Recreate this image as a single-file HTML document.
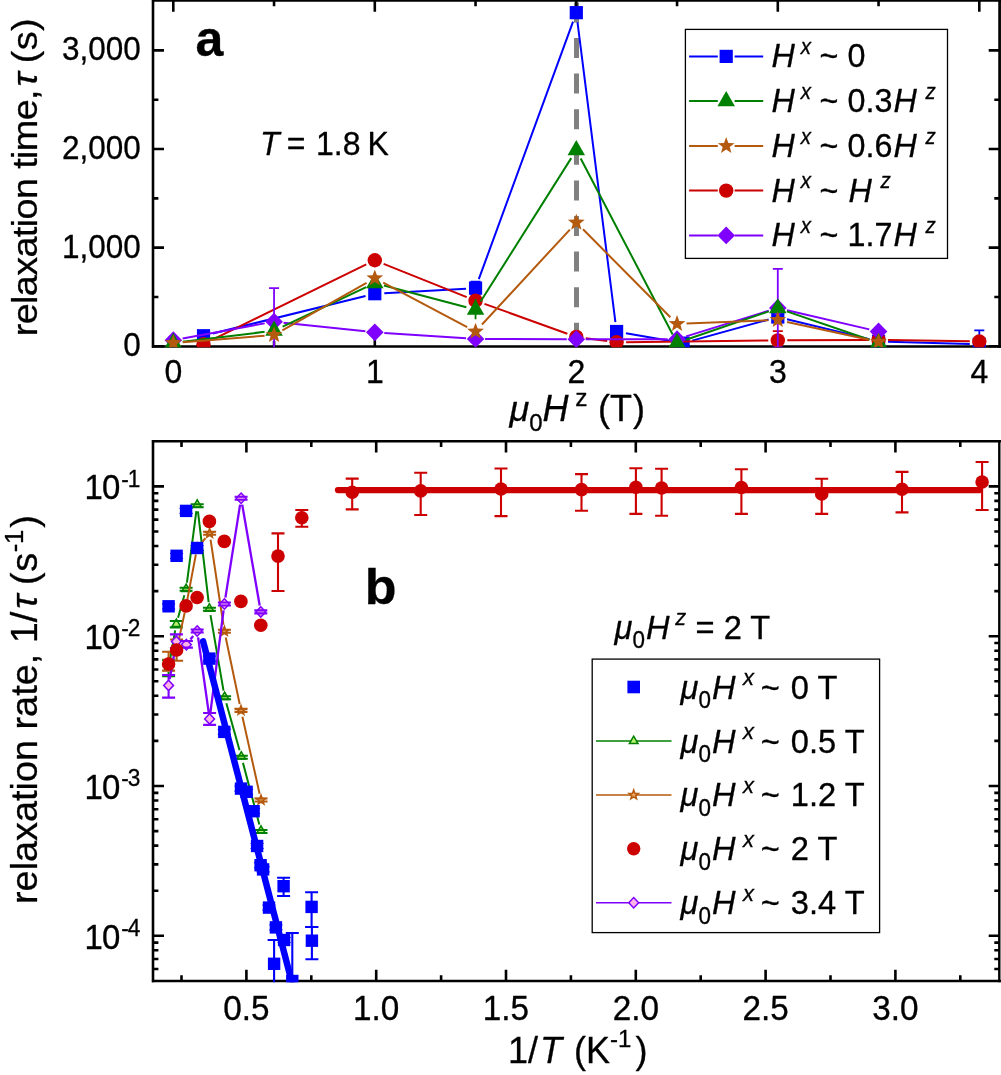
<!DOCTYPE html>
<html lang="en"><head><meta charset="utf-8"><title>Relaxation time and rate</title>
<style>
html,body{margin:0;padding:0;background:#fff;}
body{width:1001px;height:1075px;overflow:hidden;}
svg{display:block;}
svg text{font-family:"Liberation Sans",Arial,Helvetica,sans-serif;fill:#000;stroke:#000;stroke-width:0.3px;stroke-linejoin:round;}
</style></head>
<body>
<svg width="1001" height="1075" viewBox="0 0 1001 1075">
<rect width="1001" height="1075" fill="#fff"/>
<g id="panel-a">
<line x1="576.5" y1="2.4" x2="576.5" y2="346" stroke="#808080" stroke-width="5" stroke-dasharray="20 15.6"/>
<path d="M153.0 -0.8V347.7" stroke="#000" stroke-width="2.6" fill="none"/><path d="M999.6 -0.8V347.7" stroke="#000" stroke-width="2.7" fill="none"/><path d="M151.95 0.4H1000.95M151.95 346.5H1000.95" stroke="#000" stroke-width="2.5" fill="none"/>
<path d="M173.3 0.4v11.3M173.3 346.5v-11.3M274.05 0.4v5.8M274.05 346.5v-5.8M374.8 0.4v11.3M374.8 346.5v-11.3M475.55 0.4v5.8M475.55 346.5v-5.8M576.3 0.4v11.3M576.3 346.5v-11.3M677.05 0.4v5.8M677.05 346.5v-5.8M777.8 0.4v11.3M777.8 346.5v-11.3M878.55 0.4v5.8M878.55 346.5v-5.8M979.3 0.4v11.3M979.3 346.5v-11.3M153.1 346.3h10.9M999.6 346.3h-10.9M153.1 296.98h5.3M999.6 296.98h-5.3M153.1 247.65h10.9M999.6 247.65h-10.9M153.1 198.33h5.3M999.6 198.33h-5.3M153.1 149h10.9M999.6 149h-10.9M153.1 99.68h5.3M999.6 99.68h-5.3M153.1 50.35h10.9M999.6 50.35h-10.9" stroke="#000" stroke-width="2.6" fill="none"/>
<clipPath id="c1"><rect x="150" y="0" width="851" height="347.3"/></clipPath>
<g clip-path="url(#c1)">
<path d="M475.55 281.68V294.51M470.55 281.68H480.55M470.55 294.51H480.55" stroke="#0000ff" stroke-width="1.8" fill="none"/>
<path d="M979.3 330.32V356.17M974.3 330.32H984.3M974.3 356.17H984.3" stroke="#0000ff" stroke-width="1.8" fill="none"/>
<path d="M212.75 333.48L365.57 295.98M384.29 293.19L466.06 288.63M478.81 279.17L573.04 21.59M577.49 22.09L615.41 322.08M625.96 333.14L673.74 341.51M692.25 340.62L768.64 319.53M787.03 319.23L869.32 339.13M888.05 341.65L969.8 344.05" stroke="#0000ff" stroke-width="2.0" fill="none"/>
<rect x="196.93" y="329.14" width="13.2" height="13.2" fill="#0000ff"/>
<rect x="368.2" y="287.12" width="13.2" height="13.2" fill="#0000ff"/>
<rect x="468.95" y="281.5" width="13.2" height="13.2" fill="#0000ff"/>
<rect x="569.7" y="6.07" width="13.2" height="13.2" fill="#0000ff"/>
<rect x="610" y="324.9" width="13.2" height="13.2" fill="#0000ff"/>
<rect x="676.5" y="336.54" width="13.2" height="13.2" fill="#0000ff"/>
<rect x="771.2" y="310.4" width="13.2" height="13.2" fill="#0000ff"/>
<rect x="871.95" y="334.77" width="13.2" height="13.2" fill="#0000ff"/>
<rect x="972.7" y="337.73" width="13.2" height="13.2" fill="#0000ff"/>
<path d="M777.8 331.11V351.23M772.8 331.11H782.8M772.8 351.23H782.8" stroke="#cc0000" stroke-width="1.8" fill="none"/>
<path d="M212.06 339.95L366.27 264.45M383.62 263.81L466.73 297.09M484.49 303.85L567.36 333.71M585.72 338.17L607.18 341.01M626.1 342.14L768.3 340.49M787.3 340.33L869.05 339.93M888.05 340.04L969.8 341.32" stroke="#cc0000" stroke-width="2.0" fill="none"/>
<circle cx="203.53" cy="344.13" r="7.2" fill="#cc0000"/>
<circle cx="374.8" cy="260.28" r="7.2" fill="#cc0000"/>
<circle cx="475.55" cy="300.63" r="7.2" fill="#cc0000"/>
<circle cx="576.3" cy="336.93" r="7.2" fill="#cc0000"/>
<circle cx="616.6" cy="342.26" r="7.2" fill="#cc0000"/>
<circle cx="777.8" cy="340.38" r="7.2" fill="#cc0000"/>
<circle cx="878.55" cy="339.89" r="7.2" fill="#cc0000"/>
<circle cx="979.3" cy="341.47" r="7.2" fill="#cc0000"/>
<path d="M274.05 288.1V354.19M269.05 288.1H279.05M269.05 354.19H279.05" stroke="#7f00ff" stroke-width="1.8" fill="none"/>
<path d="M777.8 268.86V347.29M772.8 268.86H782.8M772.8 347.29H782.8" stroke="#7f00ff" stroke-width="1.8" fill="none"/>
<path d="M182.64 338.46L264.71 323.36M283.5 322.64L365.35 331.29M384.28 332.91L466.07 338.28M485.05 338.93L566.8 339.17M585.8 339.2L667.55 339.2M686.13 336.39L768.72 310.83M787.05 310.18L869.3 329.35" stroke="#7f00ff" stroke-width="2.0" fill="none"/>
<polygon points="173.3,331.28 182.1,340.18 173.3,349.08 164.5,340.18" fill="#7f00ff"/>
<polygon points="274.05,312.74 282.85,321.64 274.05,330.54 265.25,321.64" fill="#7f00ff"/>
<polygon points="374.8,323.39 383.6,332.29 374.8,341.19 366,332.29" fill="#7f00ff"/>
<polygon points="475.55,330 484.35,338.9 475.55,347.8 466.75,338.9" fill="#7f00ff"/>
<polygon points="576.3,330.3 585.1,339.2 576.3,348.1 567.5,339.2" fill="#7f00ff"/>
<polygon points="677.05,330.3 685.85,339.2 677.05,348.1 668.25,339.2" fill="#7f00ff"/>
<polygon points="777.8,299.12 786.6,308.02 777.8,316.92 769,308.02" fill="#7f00ff"/>
<polygon points="878.55,322.6 887.35,331.5 878.55,340.4 869.75,331.5" fill="#7f00ff"/>
<path d="M475.55 298.95V319.17" stroke="#008000" stroke-width="1.8" fill="none"/>
<path d="M182.73 341.71L264.62 331.85M282.64 326.66L366.21 287.22M383.99 285.58L466.36 307.19M480.62 301.57L571.23 158.12M580.7 158.5L672.65 334.43M686.04 339.77L768.81 311.4M786.79 311.4L869.56 339.77" stroke="#008000" stroke-width="2.0" fill="none"/>
<polygon points="173.3,332.74 164.55,347.9 182.05,347.9" fill="#008000"/>
<polygon points="274.05,320.61 265.3,335.77 282.8,335.77" fill="#008000"/>
<polygon points="374.8,273.06 366.05,288.22 383.55,288.22" fill="#008000"/>
<polygon points="475.55,299.5 466.8,314.65 484.3,314.65" fill="#008000"/>
<polygon points="576.3,139.98 567.55,155.14 585.05,155.14" fill="#008000"/>
<polygon points="677.05,332.74 668.3,347.9 685.8,347.9" fill="#008000"/>
<polygon points="777.8,298.22 769.05,313.37 786.55,313.37" fill="#008000"/>
<polygon points="878.55,332.74 869.8,347.9 887.3,347.9" fill="#008000"/>
<path d="M182.77 342.28L264.58 335.72M282.33 330.29L366.52 282.89M383.2 282.67L467.15 327.06M482 324.53L569.85 229.57M583 229.33L670.35 317.17M686.54 323.53L768.31 320.33M787.08 321.98L869.27 339.84" stroke="#b45a0e" stroke-width="2.0" fill="none"/>
<polygon points="173.3,334.24 175.47,340.05 181.67,340.33 176.82,344.19 178.47,350.16 173.3,346.74 168.13,350.16 169.78,344.19 164.93,340.33 171.13,340.05" fill="#b45a0e"/>
<polygon points="274.05,326.16 276.22,331.97 282.42,332.24 277.57,336.1 279.22,342.07 274.05,338.65 268.88,342.07 270.53,336.1 265.68,332.24 271.88,331.97" fill="#b45a0e"/>
<polygon points="374.8,269.43 376.97,275.24 383.17,275.51 378.32,279.37 379.97,285.35 374.8,281.93 369.63,285.35 371.28,279.37 366.43,275.51 372.63,275.24" fill="#b45a0e"/>
<polygon points="475.55,322.7 477.72,328.51 483.92,328.78 479.07,332.64 480.72,338.62 475.55,335.2 470.38,338.62 472.03,332.64 467.18,328.78 473.38,328.51" fill="#b45a0e"/>
<polygon points="576.3,213.79 578.47,219.6 584.67,219.87 579.82,223.74 581.47,229.71 576.3,226.29 571.13,229.71 572.78,223.74 567.93,219.87 574.13,219.6" fill="#b45a0e"/>
<polygon points="677.05,315.11 679.22,320.92 685.42,321.19 680.57,325.05 682.22,331.03 677.05,327.6 671.88,331.03 673.53,325.05 668.68,321.19 674.88,320.92" fill="#b45a0e"/>
<polygon points="777.8,311.16 779.97,316.97 786.17,317.24 781.32,321.1 782.97,327.08 777.8,323.66 772.63,327.08 774.28,321.1 769.43,317.24 775.63,316.97" fill="#b45a0e"/>
<polygon points="878.55,333.06 880.72,338.87 886.92,339.14 882.07,343 883.72,348.98 878.55,345.56 873.38,348.98 875.03,343 870.18,339.14 876.38,338.87" fill="#b45a0e"/>
</g>
<rect x="685.4" y="29.4" width="262.1" height="229" fill="#fff" stroke="#000" stroke-width="1.3"/>
<path d="M689.1 56.4H717.8M734.6 56.4H763.2" stroke="#0000ff" stroke-width="2.0" fill="none"/>
<rect x="719.6" y="49.8" width="13.2" height="13.2" fill="#0000ff"/>
<text transform="translate(771.6 67.3) scale(1.01 1.05)" font-size="32"><tspan font-style="italic">H</tspan><tspan font-style="italic" dx="5.8" dy="-12.4" font-size="20.3">x</tspan><tspan dy="12.4" dx="-0.4"> ~ 0</tspan></text>
<path d="M689.1 101.1H717.8M734.6 101.1H763.2" stroke="#008000" stroke-width="2.0" fill="none"/>
<polygon points="726.2,91 717.45,106.15 734.95,106.15" fill="#008000"/>
<text transform="translate(771.6 112) scale(1.01 1.05)" font-size="32"><tspan font-style="italic">H</tspan><tspan font-style="italic" dx="5.8" dy="-12.4" font-size="20.3">x</tspan><tspan dy="12.4" dx="-0.4"> ~ 0.3</tspan><tspan font-style="italic" dx="1.1">H</tspan><tspan font-style="italic" dx="8.5" dy="-12.4" font-size="20.3">z</tspan></text>
<path d="M689.1 145.9H717.8M734.6 145.9H763.2" stroke="#b45a0e" stroke-width="2.0" fill="none"/>
<polygon points="726.2,137.1 728.37,142.91 734.57,143.18 729.72,147.04 731.37,153.02 726.2,149.6 721.03,153.02 722.68,147.04 717.83,143.18 724.03,142.91" fill="#b45a0e"/>
<text transform="translate(771.6 156.8) scale(1.01 1.05)" font-size="32"><tspan font-style="italic">H</tspan><tspan font-style="italic" dx="5.8" dy="-12.4" font-size="20.3">x</tspan><tspan dy="12.4" dx="-0.4"> ~ 0.6</tspan><tspan font-style="italic" dx="1.1">H</tspan><tspan font-style="italic" dx="8.5" dy="-12.4" font-size="20.3">z</tspan></text>
<path d="M689.1 190.6H717.8M734.6 190.6H763.2" stroke="#cc0000" stroke-width="2.0" fill="none"/>
<circle cx="726.2" cy="190.6" r="7.2" fill="#cc0000"/>
<text transform="translate(771.6 201.5) scale(1.01 1.05)" font-size="32"><tspan font-style="italic">H</tspan><tspan font-style="italic" dx="5.8" dy="-12.4" font-size="20.3">x</tspan><tspan dy="12.4" dx="-0.4"> ~ </tspan><tspan font-style="italic" dx="1.1">H</tspan><tspan font-style="italic" dx="8.5" dy="-12.4" font-size="20.3">z</tspan></text>
<path d="M689.1 235.4H717.8M734.6 235.4H763.2" stroke="#7f00ff" stroke-width="2.0" fill="none"/>
<polygon points="726.2,226.5 735,235.4 726.2,244.3 717.4,235.4" fill="#7f00ff"/>
<text transform="translate(771.6 246.3) scale(1.01 1.05)" font-size="32"><tspan font-style="italic">H</tspan><tspan font-style="italic" dx="5.8" dy="-12.4" font-size="20.3">x</tspan><tspan dy="12.4" dx="-0.4"> ~ 1.7</tspan><tspan font-style="italic" dx="1.1">H</tspan><tspan font-style="italic" dx="8.5" dy="-12.4" font-size="20.3">z</tspan></text>
<text transform="translate(140.8 356.3) scale(0.985 1.065)" font-size="32" text-anchor="end">0</text>
<text transform="translate(140.8 257.65) scale(0.985 1.065)" font-size="32" text-anchor="end">1,000</text>
<text transform="translate(140.8 159) scale(0.985 1.065)" font-size="32" text-anchor="end">2,000</text>
<text transform="translate(140.8 60.35) scale(0.985 1.065)" font-size="32" text-anchor="end">3,000</text>
<text transform="translate(173.3 383) scale(1.0 1.05)" font-size="32" text-anchor="middle">0</text>
<text transform="translate(374.8 383) scale(1.0 1.05)" font-size="32" text-anchor="middle">1</text>
<text transform="translate(576.3 383) scale(1.0 1.05)" font-size="32" text-anchor="middle">2</text>
<text transform="translate(777.8 383) scale(1.0 1.05)" font-size="32" text-anchor="middle">3</text>
<text transform="translate(979.3 383) scale(1.0 1.05)" font-size="32" text-anchor="middle">4</text>
<text transform="translate(37.3 336.3) rotate(-90) scale(1.05 0.955)" font-size="36" letter-spacing="-0.6">relaxation<tspan dx="0"> time,</tspan><tspan font-style="italic" dx="3.5">τ</tspan><tspan dx="-1.3" letter-spacing="0.4"> (s)</tspan></text>
<text transform="translate(509.5 421)" font-size="36"><tspan font-style="italic">μ</tspan><tspan dy="10.4" font-size="24">0</tspan><tspan font-style="italic" dy="-10.4" dx="0">H</tspan><tspan dx="6.6" dy="-15" font-size="24.5">z</tspan><tspan dy="15" dx="0.6"> (T</tspan><tspan dx="1">)</tspan></text>
<text transform="translate(195.4 55.5)" font-size="50" font-weight="bold">a</text>
<text transform="translate(260 155.1) scale(1 1.05)" font-size="32"><tspan font-style="italic">T</tspan><tspan dx="-1.7"> =</tspan><tspan dx="1.7"> 1.8</tspan><tspan dx="-1.8"> K</tspan></text>
</g>
<g id="panel-b">
<path d="M153.0 440V982.3" stroke="#000" stroke-width="2.6" fill="none"/><path d="M999.3 440V982.3" stroke="#000" stroke-width="2.4" fill="none"/><path d="M151.95 441.2H1000.95M151.95 981.1H1000.95" stroke="#000" stroke-width="2.5" fill="none"/>
<path d="M181.5 441.2v5.8M181.5 981.1v-5.8M246.4 441.2v11.3M246.4 981.1v-11.3M311.3 441.2v5.8M311.3 981.1v-5.8M376.2 441.2v11.3M376.2 981.1v-11.3M441.1 441.2v5.8M441.1 981.1v-5.8M506 441.2v11.3M506 981.1v-11.3M570.9 441.2v5.8M570.9 981.1v-5.8M635.8 441.2v11.3M635.8 981.1v-11.3M700.7 441.2v5.8M700.7 981.1v-5.8M765.6 441.2v11.3M765.6 981.1v-11.3M830.5 441.2v5.8M830.5 981.1v-5.8M895.4 441.2v11.3M895.4 981.1v-11.3M960.3 441.2v5.8M960.3 981.1v-5.8M153.1 969.03h5.3M999.6 969.03h-5.3M153.1 959h5.3M999.6 959h-5.3M153.1 950.32h5.3M999.6 950.32h-5.3M153.1 942.65h5.3M999.6 942.65h-5.3M153.1 935.8h10.9M999.6 935.8h-10.9M153.1 890.71h5.3M999.6 890.71h-5.3M153.1 864.33h5.3M999.6 864.33h-5.3M153.1 845.61h5.3M999.6 845.61h-5.3M153.1 831.09h5.3M999.6 831.09h-5.3M153.1 819.23h5.3M999.6 819.23h-5.3M153.1 809.2h5.3M999.6 809.2h-5.3M153.1 800.52h5.3M999.6 800.52h-5.3M153.1 792.85h5.3M999.6 792.85h-5.3M153.1 786h10.9M999.6 786h-10.9M153.1 740.91h5.3M999.6 740.91h-5.3M153.1 714.53h5.3M999.6 714.53h-5.3M153.1 695.81h5.3M999.6 695.81h-5.3M153.1 681.29h5.3M999.6 681.29h-5.3M153.1 669.43h5.3M999.6 669.43h-5.3M153.1 659.4h5.3M999.6 659.4h-5.3M153.1 650.72h5.3M999.6 650.72h-5.3M153.1 643.05h5.3M999.6 643.05h-5.3M153.1 636.2h10.9M999.6 636.2h-10.9M153.1 591.11h5.3M999.6 591.11h-5.3M153.1 564.73h5.3M999.6 564.73h-5.3M153.1 546.01h5.3M999.6 546.01h-5.3M153.1 531.49h5.3M999.6 531.49h-5.3M153.1 519.63h5.3M999.6 519.63h-5.3M153.1 509.6h5.3M999.6 509.6h-5.3M153.1 500.92h5.3M999.6 500.92h-5.3M153.1 493.25h5.3M999.6 493.25h-5.3M153.1 486.4h10.9M999.6 486.4h-10.9" stroke="#000" stroke-width="2.6" fill="none"/>
<clipPath id="c2"><rect x="150" y="440" width="851" height="542.3"/></clipPath>
<g clip-path="url(#c2)">
<path d="M169.72 661.6L175.18 630.4M178.05 617.74L184.35 595.26M186.95 582.56L196.35 511.24M197.96 511.26L208.64 602.24M210.5 615.11L223.5 690.59M226.35 703.26L239.55 750.34M242.97 762.88L259.33 824.52" stroke="#008000" stroke-width="2.0" fill="none"/>
<polygon points="168.6,663.03 164.3,670.48 172.9,670.48" fill="#b9f06e" stroke="#008000" stroke-width="1.5" stroke-linejoin="miter"/>
<polygon points="176.3,619.03 172,626.48 180.6,626.48" fill="#b9f06e" stroke="#008000" stroke-width="1.5" stroke-linejoin="miter"/>
<polygon points="186.1,584.03 181.8,591.48 190.4,591.48" fill="#b9f06e" stroke="#008000" stroke-width="1.5" stroke-linejoin="miter"/>
<polygon points="197.2,499.83 192.9,507.28 201.5,507.28" fill="#b9f06e" stroke="#008000" stroke-width="1.5" stroke-linejoin="miter"/>
<polygon points="209.4,603.73 205.1,611.18 213.7,611.18" fill="#b9f06e" stroke="#008000" stroke-width="1.5" stroke-linejoin="miter"/>
<polygon points="224.6,692.03 220.3,699.48 228.9,699.48" fill="#b9f06e" stroke="#008000" stroke-width="1.5" stroke-linejoin="miter"/>
<polygon points="241.3,751.63 237,759.08 245.6,759.08" fill="#b9f06e" stroke="#008000" stroke-width="1.5" stroke-linejoin="miter"/>
<polygon points="261,825.83 256.7,833.28 265.3,833.28" fill="#b9f06e" stroke="#008000" stroke-width="1.5" stroke-linejoin="miter"/>
<path d="M168.6 660V664M168.6 672V676.2M162.1 660H175.1M162.1 676.2H175.1" stroke="#008000" stroke-width="2.1" fill="none"/>
<path d="M169.8 621H182.8M169.8 627.4H182.8" stroke="#008000" stroke-width="2.1" fill="none"/>
<path d="M179.6 587.8H192.6M179.6 590.8H192.6" stroke="#008000" stroke-width="2.1" fill="none"/>
<path d="M190.7 504.3H203.7M190.7 507.3H203.7" stroke="#008000" stroke-width="2.1" fill="none"/>
<path d="M202.9 607.8H215.9M202.9 610.8H215.9" stroke="#008000" stroke-width="2.1" fill="none"/>
<path d="M218.1 696.2H231.1M218.1 699.2H231.1" stroke="#008000" stroke-width="2.1" fill="none"/>
<path d="M234.8 755.8H247.8M234.8 758.8H247.8" stroke="#008000" stroke-width="2.1" fill="none"/>
<path d="M254.5 830H267.5M254.5 833H267.5" stroke="#008000" stroke-width="2.1" fill="none"/>
<path d="M172.42 655.74L172.78 655.26M177.97 643.65L184.73 612.35M187.31 599.61L195.89 554.39M201.29 543.03L205.41 538.17M210.57 539.63L223.43 624.77M225.73 637.56L239.67 704.04M242.42 716.74L259.58 793.66" stroke="#b45a0e" stroke-width="2.0" fill="none"/>
<polygon points="168.6,656.1 169.81,659.34 173.26,659.49 170.56,661.64 171.48,664.96 168.6,663.06 165.72,664.96 166.64,661.64 163.94,659.49 167.39,659.34" fill="#f0a560" stroke="#b45a0e" stroke-width="1.5"/>
<polygon points="176.6,645.1 177.81,648.34 181.26,648.49 178.56,650.64 179.48,653.96 176.6,652.06 173.72,653.96 174.64,650.64 171.94,648.49 175.39,648.34" fill="#f0a560" stroke="#b45a0e" stroke-width="1.5"/>
<polygon points="186.1,601.1 187.31,604.34 190.76,604.49 188.06,606.64 188.98,609.96 186.1,608.06 183.22,609.96 184.14,606.64 181.44,604.49 184.89,604.34" fill="#f0a560" stroke="#b45a0e" stroke-width="1.5"/>
<polygon points="197.1,543.1 198.31,546.34 201.76,546.49 199.06,548.64 199.98,551.96 197.1,550.06 194.22,551.96 195.14,548.64 192.44,546.49 195.89,546.34" fill="#f0a560" stroke="#b45a0e" stroke-width="1.5"/>
<polygon points="209.6,528.3 210.81,531.54 214.26,531.69 211.56,533.84 212.48,537.16 209.6,535.26 206.72,537.16 207.64,533.84 204.94,531.69 208.39,531.54" fill="#f0a560" stroke="#b45a0e" stroke-width="1.5"/>
<polygon points="224.4,626.3 225.61,629.54 229.06,629.69 226.36,631.84 227.28,635.16 224.4,633.26 221.52,635.16 222.44,631.84 219.74,629.69 223.19,629.54" fill="#f0a560" stroke="#b45a0e" stroke-width="1.5"/>
<polygon points="241,705.5 242.21,708.74 245.66,708.89 242.96,711.04 243.88,714.36 241,712.46 238.12,714.36 239.04,711.04 236.34,708.89 239.79,708.74" fill="#f0a560" stroke="#b45a0e" stroke-width="1.5"/>
<polygon points="261,795.1 262.21,798.34 265.66,798.49 262.96,800.64 263.88,803.96 261,802.06 258.12,803.96 259.04,800.64 256.34,798.49 259.79,798.34" fill="#f0a560" stroke="#b45a0e" stroke-width="1.5"/>
<path d="M168.6 651.8V656.5M168.6 665.5V670.6M162.1 651.8H175.1M162.1 670.6H175.1" stroke="#b45a0e" stroke-width="2.1" fill="none"/>
<path d="M176.6 639.5V645.5M176.6 654.5V660.8M170.1 639.5H183.1M170.1 660.8H183.1" stroke="#b45a0e" stroke-width="2.1" fill="none"/>
<path d="M203.1 531.7H216.1M203.1 534.7H216.1" stroke="#b45a0e" stroke-width="2.1" fill="none"/>
<path d="M217.9 629.7H230.9M217.9 632.7H230.9" stroke="#b45a0e" stroke-width="2.1" fill="none"/>
<path d="M234.5 708.9H247.5M234.5 711.9H247.5" stroke="#b45a0e" stroke-width="2.1" fill="none"/>
<path d="M254.5 798.5H267.5M254.5 801.5H267.5" stroke="#b45a0e" stroke-width="2.1" fill="none"/>
<path d="M169.73 679L175.27 647.8M190.44 639.51L193.16 636.09M198.11 637.44L208.69 712.46M210.43 712.45L223.57 610.45M225.41 597.58L240.09 504.62M242.21 504.6L259.69 605.5" stroke="#7f00ff" stroke-width="2.3" fill="none"/>
<polygon points="168.6,680.2 173.5,685.4 168.6,690.6 163.7,685.4" fill="#ffb4e6" stroke="#7f00ff" stroke-width="1.5"/>
<polygon points="176.4,636.2 181.3,641.4 176.4,646.6 171.5,641.4" fill="#ffb4e6" stroke="#7f00ff" stroke-width="1.5"/>
<polygon points="186.4,639.4 191.3,644.6 186.4,649.8 181.5,644.6" fill="#ffb4e6" stroke="#7f00ff" stroke-width="1.5"/>
<polygon points="197.2,625.8 202.1,631 197.2,636.2 192.3,631" fill="#ffb4e6" stroke="#7f00ff" stroke-width="1.5"/>
<polygon points="209.6,713.7 214.5,718.9 209.6,724.1 204.7,718.9" fill="#ffb4e6" stroke="#7f00ff" stroke-width="1.5"/>
<polygon points="224.4,598.8 229.3,604 224.4,609.2 219.5,604" fill="#ffb4e6" stroke="#7f00ff" stroke-width="1.5"/>
<polygon points="241.1,493 246,498.2 241.1,503.4 236.2,498.2" fill="#ffb4e6" stroke="#7f00ff" stroke-width="1.5"/>
<polygon points="260.8,606.7 265.7,611.9 260.8,617.1 255.9,611.9" fill="#ffb4e6" stroke="#7f00ff" stroke-width="1.5"/>
<path d="M168.6 675V680.4M168.6 690.4V697.6M162.1 675H175.1M162.1 697.6H175.1" stroke="#7f00ff" stroke-width="2.1" fill="none"/>
<path d="M176.4 634.4V636.4M176.4 646.4V648M169.9 634.4H182.9M169.9 648H182.9" stroke="#7f00ff" stroke-width="2.1" fill="none"/>
<path d="M179.9 641H192.9M179.9 647.6H192.9" stroke="#7f00ff" stroke-width="2.1" fill="none"/>
<path d="M190.7 629.5H203.7M190.7 632.5H203.7" stroke="#7f00ff" stroke-width="2.1" fill="none"/>
<path d="M209.6 713V713.9M209.6 723.9V724.9M203.1 713H216.1M203.1 724.9H216.1" stroke="#7f00ff" stroke-width="2.1" fill="none"/>
<path d="M217.9 602.5H230.9M217.9 605.5H230.9" stroke="#7f00ff" stroke-width="2.1" fill="none"/>
<path d="M234.6 496.7H247.6M234.6 499.7H247.6" stroke="#7f00ff" stroke-width="2.1" fill="none"/>
<path d="M254.3 610.4H267.3M254.3 613.4H267.3" stroke="#7f00ff" stroke-width="2.1" fill="none"/>
<line x1="203.1" y1="641.4" x2="292.2" y2="983.5" stroke="#0000ff" stroke-width="6.5" stroke-linecap="round"/>
<line x1="337.9" y1="490.1" x2="979.8" y2="490.1" stroke="#cc0000" stroke-width="6.2" stroke-linecap="round"/>
<path d="M283.6 877.8V896M277.1 877.8H290.1M277.1 896H290.1" stroke="#0000ff" stroke-width="2.1" fill="none"/>
<path d="M274.1 940V990M267.6 940H280.6M267.6 990H280.6" stroke="#0000ff" stroke-width="2.1" fill="none"/>
<path d="M292.3 933V990M285.8 933H298.8M285.8 990H298.8" stroke="#0000ff" stroke-width="2.1" fill="none"/>
<path d="M311.6 892.2V927M305.1 892.2H318.1M305.1 927H318.1" stroke="#0000ff" stroke-width="2.1" fill="none"/>
<path d="M311.9 927V959.2M305.4 927H318.4M305.4 959.2H318.4" stroke="#0000ff" stroke-width="2.1" fill="none"/>
<path d="M168.6 603.8V608.8M162.1 603.8H175.1M162.1 608.8H175.1" stroke="#0000ff" stroke-width="1.2" fill="none"/>
<path d="M176.6 553.3V558.3M170.1 553.3H183.1M170.1 558.3H183.1" stroke="#0000ff" stroke-width="1.2" fill="none"/>
<path d="M186.1 508.4V513.4M179.6 508.4H192.6M179.6 513.4H192.6" stroke="#0000ff" stroke-width="1.2" fill="none"/>
<path d="M197.1 545.5V550.5M190.6 545.5H203.6M190.6 550.5H203.6" stroke="#0000ff" stroke-width="1.2" fill="none"/>
<path d="M209.4 656.1V661.1M202.9 656.1H215.9M202.9 661.1H215.9" stroke="#0000ff" stroke-width="1.2" fill="none"/>
<path d="M224.3 729.4V734.4M217.8 729.4H230.8M217.8 734.4H230.8" stroke="#0000ff" stroke-width="1.2" fill="none"/>
<path d="M241 786.1V791.1M234.5 786.1H247.5M234.5 791.1H247.5" stroke="#0000ff" stroke-width="1.2" fill="none"/>
<path d="M246.6 789.3V794.3M240.1 789.3H253.1M240.1 794.3H253.1" stroke="#0000ff" stroke-width="1.2" fill="none"/>
<path d="M253.6 808.7V813.7M247.1 808.7H260.1M247.1 813.7H260.1" stroke="#0000ff" stroke-width="1.2" fill="none"/>
<path d="M257.1 843.5V848.5M250.6 843.5H263.6M250.6 848.5H263.6" stroke="#0000ff" stroke-width="1.2" fill="none"/>
<path d="M260.6 862.7V867.7M254.1 862.7H267.1M254.1 867.7H267.1" stroke="#0000ff" stroke-width="1.2" fill="none"/>
<path d="M263.1 866.9V871.9M256.6 866.9H269.6M256.6 871.9H269.6" stroke="#0000ff" stroke-width="1.2" fill="none"/>
<path d="M269 905.1V910.1M262.5 905.1H275.5M262.5 910.1H275.5" stroke="#0000ff" stroke-width="1.2" fill="none"/>
<path d="M275.9 924.9V929.9M269.4 924.9H282.4M269.4 929.9H282.4" stroke="#0000ff" stroke-width="1.2" fill="none"/>
<path d="M284.1 937.5V942.5M277.6 937.5H290.6M277.6 942.5H290.6" stroke="#0000ff" stroke-width="1.2" fill="none"/>
<rect x="162.4" y="600.1" width="12.4" height="12.4" fill="#0000ff"/>
<rect x="170.4" y="549.6" width="12.4" height="12.4" fill="#0000ff"/>
<rect x="179.9" y="504.7" width="12.4" height="12.4" fill="#0000ff"/>
<rect x="190.9" y="541.8" width="12.4" height="12.4" fill="#0000ff"/>
<rect x="203.2" y="652.4" width="12.4" height="12.4" fill="#0000ff"/>
<rect x="218.1" y="725.7" width="12.4" height="12.4" fill="#0000ff"/>
<rect x="234.8" y="782.4" width="12.4" height="12.4" fill="#0000ff"/>
<rect x="240.4" y="785.6" width="12.4" height="12.4" fill="#0000ff"/>
<rect x="247.4" y="805" width="12.4" height="12.4" fill="#0000ff"/>
<rect x="250.9" y="839.8" width="12.4" height="12.4" fill="#0000ff"/>
<rect x="254.4" y="859" width="12.4" height="12.4" fill="#0000ff"/>
<rect x="256.9" y="863.2" width="12.4" height="12.4" fill="#0000ff"/>
<rect x="262.8" y="901.4" width="12.4" height="12.4" fill="#0000ff"/>
<rect x="269.7" y="921.2" width="12.4" height="12.4" fill="#0000ff"/>
<rect x="277.9" y="933.8" width="12.4" height="12.4" fill="#0000ff"/>
<rect x="277.4" y="880" width="12.4" height="12.4" fill="#0000ff"/>
<rect x="267.9" y="957.6" width="12.4" height="12.4" fill="#0000ff"/>
<rect x="286.1" y="974.8" width="12.4" height="12.4" fill="#0000ff"/>
<rect x="305.4" y="900.7" width="12.4" height="12.4" fill="#0000ff"/>
<rect x="305.7" y="934.5" width="12.4" height="12.4" fill="#0000ff"/>
<path d="M278 533.4V591M271.5 533.4H284.5M271.5 591H284.5" stroke="#cc0000" stroke-width="2.1" fill="none"/>
<path d="M301.8 510V526.7M295.3 510H308.3M295.3 526.7H308.3" stroke="#cc0000" stroke-width="2.1" fill="none"/>
<path d="M352.2 478.6V509.4M345.7 478.6H358.7M345.7 509.4H358.7" stroke="#cc0000" stroke-width="2.1" fill="none"/>
<path d="M420.7 472.7V515M414.2 472.7H427.2M414.2 515H427.2" stroke="#cc0000" stroke-width="2.1" fill="none"/>
<path d="M501 468.5V516.1M494.5 468.5H507.5M494.5 516.1H507.5" stroke="#cc0000" stroke-width="2.1" fill="none"/>
<path d="M581.5 474.1V510.7M575 474.1H588M575 510.7H588" stroke="#cc0000" stroke-width="2.1" fill="none"/>
<path d="M635.9 468.3V513.9M629.4 468.3H642.4M629.4 513.9H642.4" stroke="#cc0000" stroke-width="2.1" fill="none"/>
<path d="M661.6 468.8V515.8M655.1 468.8H668.1M655.1 515.8H668.1" stroke="#cc0000" stroke-width="2.1" fill="none"/>
<path d="M741.4 469.3V513.9M734.9 469.3H747.9M734.9 513.9H747.9" stroke="#cc0000" stroke-width="2.1" fill="none"/>
<path d="M821.7 478.8V513.9M815.2 478.8H828.2M815.2 513.9H828.2" stroke="#cc0000" stroke-width="2.1" fill="none"/>
<path d="M902 471.9V512.4M895.5 471.9H908.5M895.5 512.4H908.5" stroke="#cc0000" stroke-width="2.1" fill="none"/>
<path d="M982.1 462V510M975.6 462H988.6M975.6 510H988.6" stroke="#cc0000" stroke-width="2.1" fill="none"/>
<circle cx="168.6" cy="664" r="6.8" fill="#cc0000"/>
<circle cx="176.6" cy="650" r="6.8" fill="#cc0000"/>
<circle cx="186.1" cy="605.9" r="6.8" fill="#cc0000"/>
<circle cx="197.1" cy="597.5" r="6.8" fill="#cc0000"/>
<circle cx="209.4" cy="521.4" r="6.8" fill="#cc0000"/>
<circle cx="224.3" cy="541.4" r="6.8" fill="#cc0000"/>
<circle cx="240.9" cy="601.4" r="6.8" fill="#cc0000"/>
<circle cx="260.8" cy="625.2" r="6.8" fill="#cc0000"/>
<circle cx="278" cy="556.1" r="6.8" fill="#cc0000"/>
<circle cx="301.8" cy="517.8" r="6.8" fill="#cc0000"/>
<circle cx="352.2" cy="492.3" r="6.8" fill="#cc0000"/>
<circle cx="420.7" cy="490.9" r="6.8" fill="#cc0000"/>
<circle cx="501" cy="489" r="6.8" fill="#cc0000"/>
<circle cx="581.5" cy="489.6" r="6.8" fill="#cc0000"/>
<circle cx="635.9" cy="487.2" r="6.8" fill="#cc0000"/>
<circle cx="661.6" cy="488" r="6.8" fill="#cc0000"/>
<circle cx="741.4" cy="487.5" r="6.8" fill="#cc0000"/>
<circle cx="821.7" cy="494" r="6.8" fill="#cc0000"/>
<circle cx="902" cy="489.2" r="6.8" fill="#cc0000"/>
<circle cx="982.1" cy="482" r="6.8" fill="#cc0000"/>
</g>
<rect x="592.2" y="659.1" width="287.4" height="273.5" fill="#fff" stroke="#000" stroke-width="1.3"/>
<rect x="627.4" y="680.7" width="12.6" height="12.6" fill="#0000ff"/>
<text transform="translate(680.5 698.5) scale(1.02 1.05)" font-size="32"><tspan font-style="italic">μ</tspan><tspan dy="8.9" font-size="22">0</tspan><tspan font-style="italic" dy="-8.9" dx="1.0">H</tspan><tspan font-style="italic" dx="7.3" dy="-12.7" font-size="21.5">x</tspan><tspan dy="12.7" dx="-2.2"> ~</tspan><tspan dx="2.0"> 0 T</tspan></text>
<path d="M596 741.1H671.5" stroke="#008000" stroke-width="1.5" fill="none"/>
<polygon points="633.7,736.13 629.4,743.58 638,743.58" fill="#b9f06e" stroke="#008000" stroke-width="1.5" stroke-linejoin="miter"/>
<text transform="translate(680.5 752.6) scale(1.02 1.05)" font-size="32"><tspan font-style="italic">μ</tspan><tspan dy="8.9" font-size="22">0</tspan><tspan font-style="italic" dy="-8.9" dx="1.0">H</tspan><tspan font-style="italic" dx="7.3" dy="-12.7" font-size="21.5">x</tspan><tspan dy="12.7" dx="-2.2"> ~</tspan><tspan dx="2.0"> 0.5 T</tspan></text>
<path d="M596 794.9H671.5" stroke="#b45a0e" stroke-width="1.5" fill="none"/>
<polygon points="633.7,790 634.91,793.24 638.36,793.39 635.66,795.54 636.58,798.86 633.7,796.96 630.82,798.86 631.74,795.54 629.04,793.39 632.49,793.24" fill="#f0a560" stroke="#b45a0e" stroke-width="1.5"/>
<text transform="translate(680.5 806.4) scale(1.02 1.05)" font-size="32"><tspan font-style="italic">μ</tspan><tspan dy="8.9" font-size="22">0</tspan><tspan font-style="italic" dy="-8.9" dx="1.0">H</tspan><tspan font-style="italic" dx="7.3" dy="-12.7" font-size="21.5">x</tspan><tspan dy="12.7" dx="-2.2"> ~</tspan><tspan dx="2.0"> 1.2 T</tspan></text>
<circle cx="633.7" cy="848.8" r="6.7" fill="#cc0000"/>
<text transform="translate(680.5 860.3) scale(1.02 1.05)" font-size="32"><tspan font-style="italic">μ</tspan><tspan dy="8.9" font-size="22">0</tspan><tspan font-style="italic" dy="-8.9" dx="1.0">H</tspan><tspan font-style="italic" dx="7.3" dy="-12.7" font-size="21.5">x</tspan><tspan dy="12.7" dx="-2.2"> ~</tspan><tspan dx="2.0"> 2 T</tspan></text>
<path d="M596 902.8H671.5" stroke="#7f00ff" stroke-width="1.5" fill="none"/>
<polygon points="633.7,897.6 638.6,902.8 633.7,908 628.8,902.8" fill="#ffb4e6" stroke="#7f00ff" stroke-width="1.5"/>
<text transform="translate(680.5 914.3) scale(1.02 1.05)" font-size="32"><tspan font-style="italic">μ</tspan><tspan dy="8.9" font-size="22">0</tspan><tspan font-style="italic" dy="-8.9" dx="1.0">H</tspan><tspan font-style="italic" dx="7.3" dy="-12.7" font-size="21.5">x</tspan><tspan dy="12.7" dx="-2.2"> ~</tspan><tspan dx="2.0"> 3.4 T</tspan></text>
<text transform="translate(614.5 638.8) scale(1.02 1.05)" font-size="32"><tspan font-style="italic">μ</tspan><tspan dy="8.9" font-size="22">0</tspan><tspan font-style="italic" dy="-8.9" dx="1.0">H</tspan><tspan font-style="italic" dx="5.7" dy="-12.7" font-size="21.5">z</tspan><tspan dy="12.7" dx="0.3"> = 2 T</tspan></text>
<text transform="translate(364.7 604.3) scale(1.02 0.985)" font-size="51" font-weight="bold">b</text>
<text transform="translate(84.5 948.8) scale(1.03 1.1)" font-size="32" letter-spacing="-0.8">10<tspan dy="-11.7" dx="1.6" font-size="22">-4</tspan></text>
<text transform="translate(84.5 799) scale(1.03 1.1)" font-size="32" letter-spacing="-0.8">10<tspan dy="-11.7" dx="1.6" font-size="22">-3</tspan></text>
<text transform="translate(84.5 649.2) scale(1.03 1.1)" font-size="32" letter-spacing="-0.8">10<tspan dy="-11.7" dx="1.6" font-size="22">-2</tspan></text>
<text transform="translate(84.5 499.4) scale(1.03 1.1)" font-size="32" letter-spacing="-0.8">10<tspan dy="-11.7" dx="1.6" font-size="22">-1</tspan></text>
<text transform="translate(246.4 1020) scale(1.04 1.1)" font-size="32" text-anchor="middle">0.5</text>
<text transform="translate(376.2 1020) scale(1.04 1.1)" font-size="32" text-anchor="middle">1.0</text>
<text transform="translate(506 1020) scale(1.04 1.1)" font-size="32" text-anchor="middle">1.5</text>
<text transform="translate(635.8 1020) scale(1.04 1.1)" font-size="32" text-anchor="middle">2.0</text>
<text transform="translate(765.6 1020) scale(1.04 1.1)" font-size="32" text-anchor="middle">2.5</text>
<text transform="translate(895.4 1020) scale(1.04 1.1)" font-size="32" text-anchor="middle">3.0</text>
<text transform="translate(37.2 904) rotate(-90) scale(1.05 1.03)" font-size="36" letter-spacing="0.01">relaxation<tspan dx="0"> rate,</tspan><tspan dx="0"> 1</tspan><tspan dx="0">/</tspan><tspan font-style="italic" dx="2.9">τ</tspan><tspan dx="-1"> (</tspan><tspan dx="0.8">s</tspan><tspan dy="-14.0" dx="0.5" font-size="24.5">-</tspan><tspan dx="-0.3" font-size="24.5">1</tspan><tspan dy="14.0" dx="1.7">)</tspan></text>
<text transform="translate(508 1062.6)" font-size="36">1/<tspan font-style="italic" dx="2">T</tspan><tspan dx="2"> (K</tspan><tspan dy="-16" font-size="24">-1</tspan><tspan dy="16" dx="4.0">)</tspan></text>
</g>
</svg>
</body></html>
